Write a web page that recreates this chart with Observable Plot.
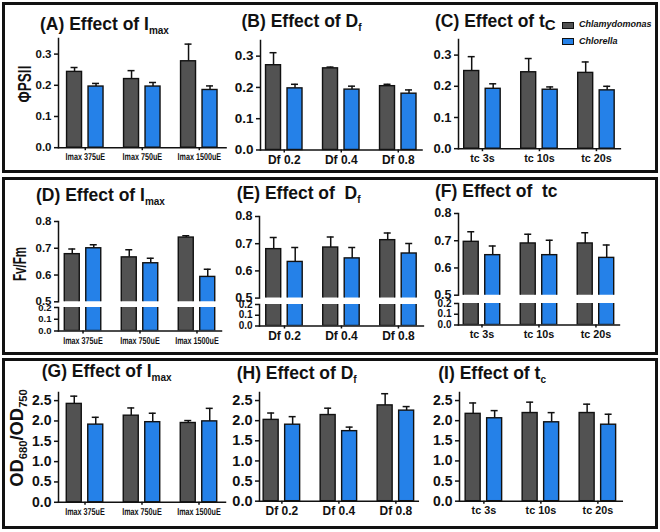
<!DOCTYPE html>
<html>
<head>
<meta charset="utf-8">
<script src="https://cdn.jsdelivr.net/npm/d3@7"></script>
<script src="https://cdn.jsdelivr.net/npm/@observablehq/plot@0.6"></script>
<style>
html,body{margin:0;padding:0;background:#fff;}
#wrap{position:relative;width:660px;height:532px;overflow:hidden;font-family:"Liberation Sans",Arial,Helvetica,sans-serif;color:#111;background:#fff;}
.box{position:absolute;border:3px solid #111;box-sizing:border-box;}
.title{position:absolute;font-weight:bold;font-size:17.5px;line-height:1;white-space:pre;}
.title .sub{font-size:10px;position:relative;top:4px;}
.ylab{position:absolute;font-weight:bold;font-size:18px;white-space:nowrap;line-height:1;}
.ylab .s{font-size:11px;position:relative;top:4px;}
.panel{position:absolute;}
.panel line,.panel path{stroke-width:1.5px;}
.leg{position:absolute;font-weight:bold;font-style:italic;font-size:9px;white-space:nowrap;line-height:1;}
.sw{position:absolute;width:12px;height:7px;border:1.3px solid #111;box-sizing:border-box;}
</style>
</head>
<body>
<div id="wrap"></div>
<script>
// ---------- categories ----------
const species = ["Chlamydomonas", "Chlorella"];
const imaxGroups = ["Imax 375uE", "Imax 750uE", "Imax 1500uE"];
const dfGroups = ["Df 0.2", "Df 0.4", "Df 0.8"];
const tcGroups = ["tc 3s", "tc 10s", "tc 20s"];

// ---------- tick values ----------
const psiiTicks = [0, 0.1, 0.2, 0.3];
const fvfmTicksUpper = [0.5, 0.6, 0.7, 0.8];
const fvfmTicksLower = [0, 0.1, 0.2];
const odTicks = [0, 0.5, 1.0, 1.5, 2.0, 2.5];

// ---------- (A) PhiPSII vs Imax ----------
const psiiImaxChlamy = [0.243, 0.220, 0.277];
const psiiImaxChlamySd = [0.014, 0.027, 0.055];
const psiiImaxChlorella = [0.196, 0.196, 0.185];
const psiiImaxChlorellaSd = [0.010, 0.013, 0.013];
// ---------- (B) PhiPSII vs Df ----------
const psiiDfChlamy = [0.271, 0.261, 0.204];
const psiiDfChlamySd = [0.040, 0.004, 0.006];
const psiiDfChlorella = [0.197, 0.193, 0.180];
const psiiDfChlorellaSd = [0.013, 0.011, 0.012];
// ---------- (C) PhiPSII vs tc ----------
const psiiTcChlamy = [0.249, 0.245, 0.243];
const psiiTcChlamySd = [0.046, 0.044, 0.035];
const psiiTcChlorella = [0.192, 0.189, 0.187];
const psiiTcChlorellaSd = [0.016, 0.009, 0.013];
// ---------- (D) Fv/Fm vs Imax ----------
const fvfmImaxChlamy = [0.678, 0.666, 0.740];
const fvfmImaxChlamySd = [0.019, 0.028, 0.007];
const fvfmImaxChlorella = [0.700, 0.644, 0.593];
const fvfmImaxChlorellaSd = [0.013, 0.019, 0.029];
// ---------- (E) Fv/Fm vs Df ----------
const fvfmDfChlamy = [0.680, 0.686, 0.713];
const fvfmDfChlamySd = [0.043, 0.039, 0.026];
const fvfmDfChlorella = [0.633, 0.646, 0.664];
const fvfmDfChlorellaSd = [0.053, 0.040, 0.037];
// ---------- (F) Fv/Fm vs tc ----------
const fvfmTcChlamy = [0.696, 0.690, 0.690];
const fvfmTcChlamySd = [0.037, 0.034, 0.039];
const fvfmTcChlorella = [0.647, 0.647, 0.637];
const fvfmTcChlorellaSd = [0.034, 0.055, 0.047];
// ---------- (G) OD680/OD750 vs Imax ----------
const odImaxChlamy = [2.42, 2.13, 1.95];
const odImaxChlamySd = [0.19, 0.19, 0.06];
const odImaxChlorella = [1.91, 1.97, 1.99];
const odImaxChlorellaSd = [0.18, 0.22, 0.32];
// ---------- (H) OD680/OD750 vs Df ----------
const odDfChlamy = [2.02, 2.14, 2.38];
const odDfChlamySd = [0.17, 0.17, 0.29];
const odDfChlorella = [1.90, 1.74, 2.25];
const odDfChlorellaSd = [0.20, 0.10, 0.10];
// ---------- (I) OD680/OD750 vs tc ----------
const odTcChlamy = [2.17, 2.19, 2.19];
const odTcChlamySd = [0.27, 0.27, 0.22];
const odTcChlorella = [2.06, 1.96, 1.90];
const odTcChlorellaSd = [0.19, 0.24, 0.26];

// ---------- style / layout constants ----------
const DARK = "#525252", BLUE = "#2581e8", INK = "#111";
const STEP = 57, PAD_IN = 0.36, GAP = 6.5, CAP = 7;
const ML = 44, MR = 14;
const FONT = "'Liberation Sans', Arial, Helvetica, sans-serif";
const wrap = document.getElementById("wrap");

function addDiv(cls, css, html) {
  const d = document.createElement("div");
  d.className = cls;
  Object.assign(d.style, css);
  d.innerHTML = html;
  wrap.appendChild(d);
  return d;
}

// boxes
addDiv("box", {left: "2px", top: "2px", width: "656px", height: "171px"}, "");
addDiv("box", {left: "2px", top: "177px", width: "656px", height: "178px"}, "");
addDiv("box", {left: "2px", top: "358px", width: "656px", height: "171px"}, "");

function groupedBars(o) {
  const rows = o.groups.map((g, i) => ({
    group: g,
    a: o.a[i], aTop: o.a[i] + o.aSd[i],
    b: o.b[i], bTop: o.b[i] + o.bSd[i]
  }));
  const n = o.groups.length;
  const W = STEP * (n - PAD_IN + 2 * o.po);
  const band = STEP * (1 - PAD_IN);
  const barW = (band - GAP) / 2;
  const off = (barW + GAP) / 2;
  const capIn = (band - CAP) / 2;
  const h = o.yBottom - o.yTop;
  const clip = !!o.clip;
  const svg = Plot.plot({
    width: ML + W + MR,
    height: o.mt + h + o.mb,
    marginLeft: ML, marginRight: MR, marginTop: o.mt, marginBottom: o.mb,
    style: {fontFamily: FONT, fontWeight: "bold", fontSize: o.fs + "px", color: INK, background: "transparent", overflow: "hidden"},
    x: {type: "band", domain: o.groups, paddingInner: PAD_IN, paddingOuter: o.po, round: false,
        axis: o.xAxis ? "bottom" : null, line: !!o.xAxis, tickSize: 3, tickPadding: 2.5, label: null},
    y: {domain: o.domain, ticks: o.ticks, tickFormat: d3.format(".1f"), line: true, tickSize: 4, tickPadding: 3, label: null},
    marks: [
      Plot.ruleX(rows, {x: "group", y1: "a", y2: "aTop", dx: -off, stroke: INK, strokeWidth: 1.5, clip}),
      Plot.ruleX(rows, {x: "group", y1: "b", y2: "bTop", dx: off, stroke: INK, strokeWidth: 1.5, clip}),
      Plot.tickY(rows, {x: "group", y: "aTop", dx: -off, insetLeft: capIn, insetRight: capIn, stroke: INK, strokeWidth: 1.5, clip}),
      Plot.tickY(rows, {x: "group", y: "bTop", dx: off, insetLeft: capIn, insetRight: capIn, stroke: INK, strokeWidth: 1.5, clip}),
      Plot.barY(rows, {x: "group", y: "a", insetRight: barW + GAP, fill: DARK, stroke: INK, strokeWidth: 1.4, clip}),
      Plot.barY(rows, {x: "group", y: "b", insetLeft: barW + GAP, fill: BLUE, stroke: INK, strokeWidth: 1.4, clip})
    ]
  });
  svg.classList.add("panel");
  svg.style.position = "absolute";
  svg.style.left = (o.x0 - ML) + "px";
  svg.style.top = (o.yTop - o.mt) + "px";
  wrap.appendChild(svg);
  if (o.xAxis) {
    svg.querySelectorAll("text").forEach(t => {
      if (o.groups.includes(t.textContent.trim())) {
        t.style.fontSize = o.xfs + "px";
        if (o.squeeze) {
          t.style.textRendering = "geometricPrecision";
          const w = t.getComputedTextLength();
          t.setAttribute("textLength", (w * o.squeeze).toFixed(1));
          t.setAttribute("lengthAdjust", "spacingAndGlyphs");
        }
      }
    });
  }
  return svg;
}

// ---------- Row 1: PhiPSII ----------
groupedBars({groups: imaxGroups, a: psiiImaxChlamy, aSd: psiiImaxChlamySd, b: psiiImaxChlorella, bSd: psiiImaxChlorellaSd,
  domain: [0, 0.35], ticks: psiiTicks, x0: 58, po: 0.15, yTop: 38.3, yBottom: 147.5, mt: 8, mb: 24, fs: 11.5, xAxis: true, xfs: 10, squeeze: 0.72});
groupedBars({groups: dfGroups, a: psiiDfChlamy, aSd: psiiDfChlamySd, b: psiiDfChlorella, bSd: psiiDfChlorellaSd,
  domain: [0, 0.35], ticks: psiiTicks, x0: 260, po: 0.097, yTop: 39.5, yBottom: 149, mt: 8, mb: 24, fs: 13.5, xAxis: true, xfs: 12});
groupedBars({groups: tcGroups, a: psiiTcChlamy, aSd: psiiTcChlamySd, b: psiiTcChlorella, bSd: psiiTcChlorellaSd,
  domain: [0, 0.35], ticks: psiiTicks, x0: 457.5, po: 0.10, yTop: 38.5, yBottom: 147.7, mt: 8, mb: 24, fs: 13, xAxis: true, xfs: 10.8});

// ---------- Row 2: Fv/Fm (broken axis) ----------
groupedBars({groups: imaxGroups, a: fvfmImaxChlamy, aSd: fvfmImaxChlamySd, b: fvfmImaxChlorella, bSd: fvfmImaxChlorellaSd,
  domain: [0.5, 0.8], ticks: fvfmTicksUpper, x0: 58, po: 0.11, yTop: 220.7, yBottom: 301, mt: 8, mb: 6, fs: 11.5, xAxis: false, clip: true});
groupedBars({groups: imaxGroups, a: fvfmImaxChlamy, aSd: fvfmImaxChlamySd, b: fvfmImaxChlorella, bSd: fvfmImaxChlorellaSd,
  domain: [0, 0.2], ticks: fvfmTicksLower, x0: 58, po: 0.11, yTop: 306.5, yBottom: 330, mt: 5, mb: 24, fs: 9.5, xAxis: true, xfs: 10, squeeze: 0.72, clip: true});

groupedBars({groups: dfGroups, a: fvfmDfChlamy, aSd: fvfmDfChlamySd, b: fvfmDfChlorella, bSd: fvfmDfChlorellaSd,
  domain: [0.5, 0.8], ticks: fvfmTicksUpper, x0: 258.5, po: 0.118, yTop: 215.7, yBottom: 297.3, mt: 8, mb: 6, fs: 12.5, xAxis: false, clip: true});
groupedBars({groups: dfGroups, a: fvfmDfChlamy, aSd: fvfmDfChlamySd, b: fvfmDfChlorella, bSd: fvfmDfChlorellaSd,
  domain: [0, 0.2], ticks: fvfmTicksLower, x0: 258.5, po: 0.118, yTop: 304, yBottom: 325.5, mt: 5, mb: 24, fs: 10, xAxis: true, xfs: 12, clip: true});

groupedBars({groups: tcGroups, a: fvfmTcChlamy, aSd: fvfmTcChlamySd, b: fvfmTcChlorella, bSd: fvfmTcChlorellaSd,
  domain: [0.5, 0.8], ticks: fvfmTicksUpper, x0: 457.5, po: 0.092, yTop: 213.3, yBottom: 295, mt: 8, mb: 6, fs: 12.5, xAxis: false, clip: true});
groupedBars({groups: tcGroups, a: fvfmTcChlamy, aSd: fvfmTcChlamySd, b: fvfmTcChlorella, bSd: fvfmTcChlorellaSd,
  domain: [0, 0.2], ticks: fvfmTicksLower, x0: 457.5, po: 0.092, yTop: 302.5, yBottom: 324, mt: 5, mb: 24, fs: 10, xAxis: true, xfs: 10.8, clip: true});

// ---------- Row 3: OD680/OD750 ----------
groupedBars({groups: imaxGroups, a: odImaxChlamy, aSd: odImaxChlamySd, b: odImaxChlorella, bSd: odImaxChlorellaSd,
  domain: [0, 2.7], ticks: odTicks, x0: 58, po: 0.145, yTop: 391.9, yBottom: 501.7, mt: 8, mb: 24, fs: 14, xAxis: true, xfs: 10, squeeze: 0.72});
groupedBars({groups: dfGroups, a: odDfChlamy, aSd: odDfChlamySd, b: odDfChlorella, bSd: odDfChlorellaSd,
  domain: [0, 2.7], ticks: odTicks, x0: 259.3, po: 0.073, yTop: 392, yBottom: 500.7, mt: 8, mb: 24, fs: 14.5, xAxis: true, xfs: 12});
groupedBars({groups: tcGroups, a: odTcChlamy, aSd: odTcChlamySd, b: odTcChlorella, bSd: odTcChlorellaSd,
  domain: [0, 2.7], ticks: odTicks, x0: 459.3, po: 0.108, yTop: 392, yBottom: 500.7, mt: 8, mb: 24, fs: 14, xAxis: true, xfs: 10.8});

// ---------- titles ----------
function title(x, baseline, html, fs) {
  const size = fs || 17.5;
  addDiv("title", {left: x + "px", top: (baseline - 0.8465 * size) + "px", fontSize: size + "px"}, html);
}
title(40, 30.7, '(A) Effect of I<span class="sub">max</span>');
title(241.5, 28.3, '(B) Effect of D<span class="sub">f</span>');
title(435, 28.3, '(C) Effect of t<span class="sub" style="font-size:15px;top:3px">C</span>');
title(36, 201.7, '(D) Effect of I<span class="sub">max</span>');
title(236.7, 200, '(E) Effect of  D<span class="sub">f</span>');
title(435, 198.3, '(F) Effect of  tc');
title(41.7, 378.3, '(G) Effect of I<span class="sub">max</span>');
title(236.7, 380, '(H) Effect of D<span class="sub">f</span>');
title(438.3, 380, '(I) Effect of t<span class="sub">c</span>');

// ---------- y-axis labels ----------
function ylab(cx, cy, len, html) {
  const d = addDiv("ylab", {left: "0px", top: "0px"}, html);
  const w = d.offsetWidth, h = d.offsetHeight;
  d.style.left = (cx - w / 2) + "px";
  d.style.top = (cy - h / 2) + "px";
  d.style.transform = "rotate(-90deg) scaleX(" + (len / w).toFixed(3) + ")";
}
ylab(25, 84, 37, "ΦPSII");
ylab(19, 264, 34, "Fv/Fm");
ylab(17, 438, 98, 'OD<span class="s">680</span>/OD<span class="s">750</span>');

// ---------- legend ----------
addDiv("sw", {left: "561.5px", top: "21.5px", background: DARK}, "");
addDiv("sw", {left: "561.5px", top: "38px", background: BLUE}, "");
addDiv("leg", {left: "579px", top: (27.7 - 0.8465 * 9) + "px"}, species[0]);
addDiv("leg", {left: "579px", top: (44.3 - 0.8465 * 9) + "px"}, species[1]);
</script>
</body>
</html>
